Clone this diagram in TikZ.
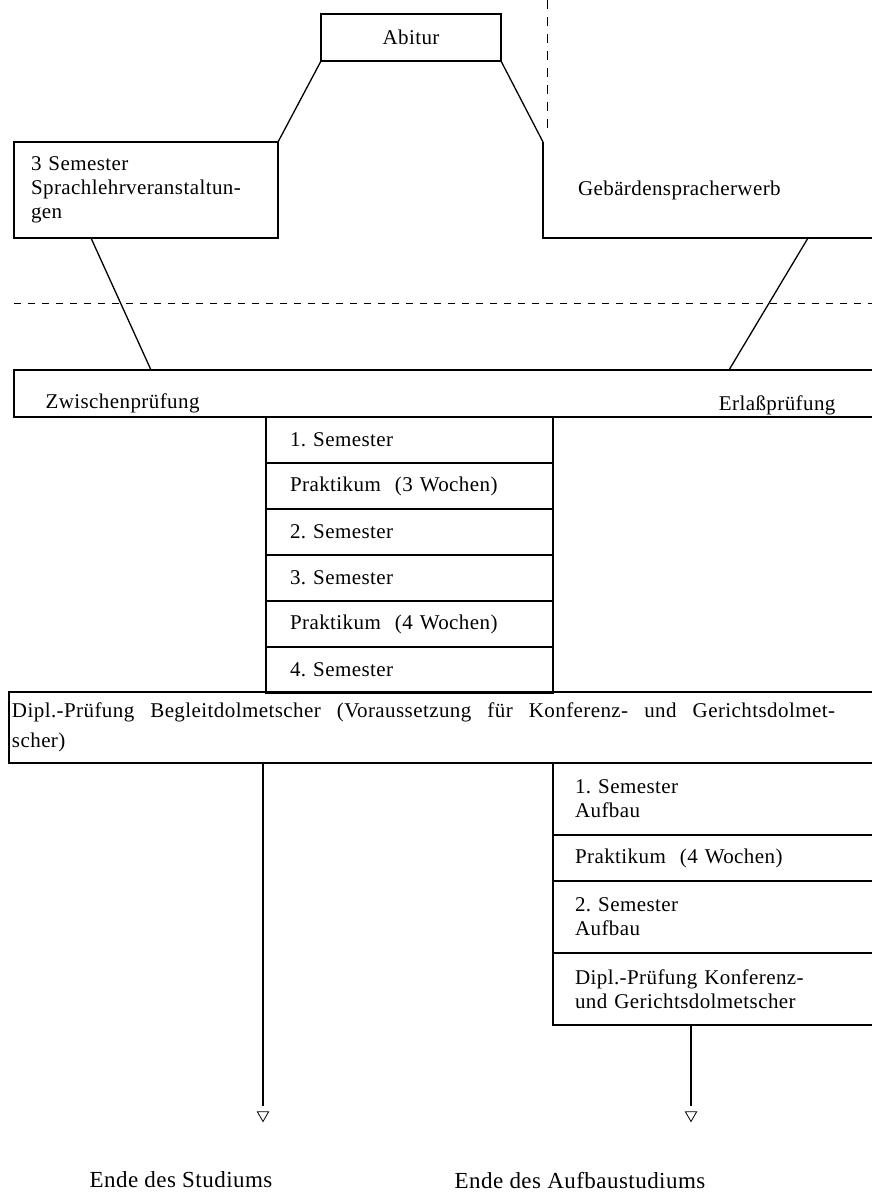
\documentclass[tikz,border=0pt]{standalone}
\usepackage{fontspec}
\setmainfont{Liberation Serif}[LetterSpace=2]
\usetikzlibrary{positioning, shapes.geometric}

\tikzset{
  every node/.style={font=\fontsize{21}{24}\selectfont\frenchspacing},
  frame/.style={line width=1.6pt},
  link/.style={line width=1.3pt},
  cell/.style={draw, frame, anchor=north west, inner sep=0pt, outer sep=0pt, align=left},
  semA/.style={cell, minimum width=287pt, text width=239pt, inner xsep=24pt, minimum height=46pt},
  semB/.style={cell, minimum width=337pt, text width=293pt, inner xsep=22pt, minimum height=72pt},
  tri/.style={draw, line width=0.8pt, regular polygon, regular polygon sides=3,
              shape border rotate=180, minimum size=13pt, inner sep=0pt},
  endlabel/.style={font=\fontsize{23}{26}\selectfont},
}

\begin{document}
\begin{tikzpicture}[x=1pt, y=-1pt]
\fill[white] (0,0) rectangle (872,1202);
\useasboundingbox (0,0) rectangle (872,1202);
\clip (0,0) rectangle (872,1202);

% top part
\node[cell, minimum width=180pt, minimum height=47pt, align=center] (abitur) at (321,14) {Abitur};
\node[cell, minimum width=264pt, minimum height=96pt, text width=230pt, inner xsep=17pt] (sprache) at (14,142)
    {3 Semester\\Sprachlehrveranstaltun-\\gen};
\node[anchor=north west, minimum width=340pt, minimum height=96pt, text width=270pt, inner xsep=35pt, inner ysep=0pt,
      outer sep=0pt, align=left] (gebaerde) at (543,142)
    {Gebärdenspracherwerb};
\draw[frame] (gebaerde.north west) -- (gebaerde.south west) -- (gebaerde.south east);

\draw[line width=1pt, dash pattern=on 9pt off 8pt] (547,0) -- (547,134);
\draw[line width=1pt, dash pattern=on 7pt off 7pt] (14,303) -- (872,303);

\node[cell, minimum width=876pt, minimum height=47pt] (zwbar) at (14,370) {};
\node[anchor=west] (zwischen) at (42,403) {Zwischenprüfung};
\node[anchor=east] (erlass) at (839,405) {Erlaßprüfung};

\begin{scope}[every path/.style={link}]
    \draw (abitur.south west) -- (sprache.north east);
    \draw (abitur.south east) -- (gebaerde.north west);
    \draw ([xshift=77pt]sprache.south west) -- ([xshift=137pt]zwbar.north west);
    \draw ([xshift=265pt]gebaerde.south west) -- ([xshift=715pt]zwbar.north west);
\end{scope}

% Studium
\node[semA] (s1) at (266,417) {1. Semester};
\node[semA, below=0pt of s1] (p1) {Praktikum~ (3 Wochen)};
\node[semA, below=0pt of p1] (s2) {2. Semester};
\node[semA, below=0pt of s2] (s3) {3. Semester};
\node[semA, below=0pt of s3] (p2) {Praktikum~ (4 Wochen)};
\node[semA, below=0pt of p2] (s4) {4. Semester};

\node[cell, minimum width=881pt, minimum height=71pt, text width=875pt, inner xsep=3pt,
      font=\fontsize{21}{30}\selectfont] (dipl) at (9,692)
    {\makebox[823pt][l]{Dipl.-Prüfung\hfill Begleitdolmetscher\hfill (Voraussetzung\hfill für\hfill
     Konferenz-\hfill und\hfill Gerichtsdolmet-}\\scher)};

% Aufbaustudium
\node[semB] (a1) at (553,763) {1. Semester\\Aufbau};
\node[semB, below=0pt of a1, minimum height=46pt] (a2) {Praktikum~ (4 Wochen)};
\node[semB, below=0pt of a2] (a3) {2. Semester\\Aufbau};
\node[semB, below=0pt of a3] (a4) {Dipl.-Prüfung Konferenz-\\und Gerichtsdolmetscher};

% Ende
\node[tri] (endL) at (263,1115) {};
\node[tri] (endR) at (691,1115) {};
\draw[link, shorten >=5pt] (dipl.south -| endL) -- (endL.north);
\draw[link, shorten >=5pt] (a4.south -| endR) -- (endR.north);

\node[endlabel] (endStud) at (181,1180) {Ende des Studiums};
\node[endlabel] (endAuf) at (580,1180) {Ende des Aufbaustudiums};
\end{tikzpicture}
\end{document}
